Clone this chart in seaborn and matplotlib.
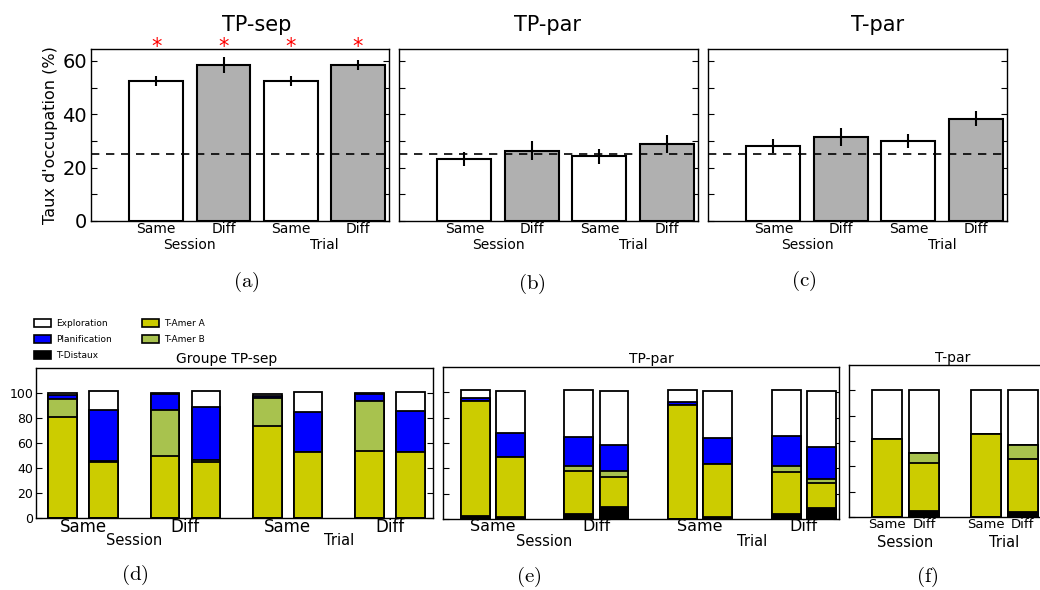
import numpy as np
import pandas as pd
import matplotlib
matplotlib.use("Agg")
import matplotlib.pyplot as plt
import matplotlib.transforms as mtransforms
from matplotlib.patches import Patch
import seaborn as sns

# top row: mean occupation rate (%) with error bars
cats = ["Session Same", "Session Diff", "Trial Same", "Trial Diff"]
tick_names = ["Same", "Diff", "Same", "Diff"]
tp_sep_vals = [52.5, 58.5, 52.5, 58.5]
tp_sep_err = [2.0, 3.0, 2.0, 2.0]
tp_par_vals = [23.2, 26.4, 24.3, 28.9]
tp_par_err = [2.6, 3.5, 2.8, 3.3]
t_par_vals = [28.1, 31.6, 29.9, 38.4]
t_par_err = [2.6, 3.3, 2.6, 2.9]
chance_level = 25

# bottom row: strategy shares (%), two bars per group
segments = ["T-Distaux", "T-Amer A", "T-Amer B", "Planification", "Exploration"]
d_distaux = [0, 0, 0, 0, 0, 0, 0, 0]
d_amer_a = [81.0, 45.1, 49.6, 45.1, 73.3, 53.1, 53.9, 53.1]
d_amer_b = [14.6, 0.3, 37.2, 1.4, 23.1, 0, 39.5, 0]
d_planif = [2.6, 41.4, 12.7, 42.4, 1.3, 32.1, 6.1, 32.6]
d_explo = [1.8, 14.9, 0.8, 12.8, 1.6, 15.7, 0.5, 15.2]

e_distaux = [2.6, 1.8, 3.7, 9.7, 0.3, 1.6, 3.9, 8.7]
e_amer_a = [90.8, 46.9, 33.9, 23.2, 89.4, 41.8, 33.2, 19.5]
e_amer_b = [0, 0, 4.5, 4.7, 0, 0, 4.7, 3.6]
e_planif = [2.4, 18.9, 22.4, 20.8, 2.7, 20.3, 23.5, 25.3]
e_explo = [6.0, 33.7, 37.3, 42.9, 9.4, 37.6, 36.5, 44.2]

f_groups = ["Session", "Trial"]
f_names = ["Same", "Diff"]
f_distaux = [0, 4.5, 0, 4.2]
f_amer_a = [61.8, 38.4, 65.8, 41.3]
f_amer_b = [0, 7.9, 0, 11.1]
f_planif = [0, 0, 0, 0]
f_explo = [38.2, 49.2, 34.2, 43.4]

seg_colors = {"T-Distaux": "#000000", "T-Amer A": "#cccc00", "T-Amer B": "#a8c24e",
              "Planification": "#0000ff", "Exploration": "#ffffff"}

sns.set_style("ticks")
plt.rcParams["font.family"] = ["DejaVu Sans"]
plt.rcParams["mathtext.fontset"] = "cm"
plt.rcParams["axes.linewidth"] = 1.0
for k in ["text.color", "axes.labelcolor", "axes.edgecolor", "xtick.color", "ytick.color"]:
    plt.rcParams[k] = "black"

W, H = 1040, 590
fig = plt.figure(figsize=(10.4, 5.9), dpi=100)


def add_ax(l, r, t, b):
    return fig.add_axes([l / W, 1 - b / H, (r - l) / W, (b - t) / H])


def top_panel(ax, vals, errs, show_y):
    sns.barplot(x=cats, y=vals, hue=cats, order=cats, hue_order=cats,
                palette=["white", "#b0b0b0", "white", "#b0b0b0"], width=0.8,
                saturation=1, edgecolor="black", linewidth=1.5, errorbar=None,
                legend=False, ax=ax)
    ax.errorbar(np.arange(4), vals, yerr=errs, fmt="none", ecolor="black", elinewidth=1.5)
    ax.axhline(chance_level, color="black", ls="--", lw=1.2, dashes=(5, 4))
    ax.set_xlim(-0.97, 3.46)
    ax.set_ylim(0, 64.5)
    ax.set_yticks(range(0, 61, 10))
    if show_y:
        ax.set_yticklabels(["0", "", "20", "", "40", "", "60"])
    else:
        ax.set_yticklabels([])
    ax.tick_params(axis="y", direction="in", left=True, right=True, length=4, labelsize=14, pad=3)
    ax.set_xticks(range(4), tick_names)
    ax.tick_params(axis="x", length=0, labelsize=10, pad=1)
    ax.set_xlabel("")
    ax.set_ylabel("")
    tr = mtransforms.blended_transform_factory(ax.transData, ax.transAxes)
    ax.text(0.5, -0.14, "Session", transform=tr, ha="center", va="center", fontsize=10)
    ax.text(2.5, -0.14, "Trial", transform=tr, ha="center", va="center", fontsize=10)


def stacked_panel(ax, groups, names, seg_vals, width, gap):
    n = len(names)
    df = pd.DataFrame({"group": np.repeat(groups, n), "pos": list(names) * len(groups)})
    cum = np.zeros(len(df))
    for seg, v in zip(segments, seg_vals):
        cum = cum + np.array(v)
        df[seg] = cum
    # draw cumulative totals from the top segment down
    for seg in segments[::-1]:
        c = seg_colors[seg]
        sns.barplot(data=df, x="group", y=seg, hue="pos", order=groups, hue_order=names,
                    palette=[c] * n, dodge=True, width=width, gap=gap, saturation=1,
                    edgecolor="black", linewidth=1.3, errorbar=None, legend=False, ax=ax)
    ax.set_ylim(0, 120)
    ax.set_yticks(range(0, 101, 20))
    ax.tick_params(axis="y", direction="in", left=True, right=True, length=4, labelsize=9, pad=2)
    ax.set_xlabel("")
    ax.set_ylabel("")


# ---- top row
ax_a = add_ax(91, 389, 49, 221)
top_panel(ax_a, tp_sep_vals, tp_sep_err, True)
ax_a.set_ylabel("Taux d'occupation (%)", fontsize=11.5, labelpad=3)
for i in range(4):
    ax_a.text(i, 65.3, "*", color="red", fontsize=15, ha="center", va="center", clip_on=False)

ax_b = add_ax(399, 698, 49, 221)
top_panel(ax_b, tp_par_vals, tp_par_err, False)

ax_c = add_ax(708, 1007, 49, 221)
top_panel(ax_c, t_par_vals, t_par_err, False)

for x, t in [(257, "TP-sep"), (547, "TP-par"), (878, "T-par")]:
    fig.text(x / W, 1 - 25 / H, t, ha="center", va="center", fontsize=15)

# ---- bottom row
ax_d = add_ax(36, 433, 368, 518)
stacked_panel(ax_d, cats, ["a", "b"], [d_distaux, d_amer_a, d_amer_b, d_planif, d_explo], 0.8, 0.3)
ax_d.set_xlim(-0.46, 3.42)
ax_d.set_xticks(range(4), tick_names)
ax_d.tick_params(axis="x", length=0, labelsize=12, pad=0)

ax_e = add_ax(443, 839, 367, 519)
stacked_panel(ax_e, cats, ["a", "b"], [e_distaux, e_amer_a, e_amer_b, e_planif, e_explo], 0.68, 0.18)
ax_e.set_xlim(-0.48, 3.34)
ax_e.set_xticks(range(4), tick_names)
ax_e.set_yticklabels([])
ax_e.tick_params(axis="x", length=0, labelsize=11.5, pad=0)

for ax in (ax_d, ax_e):
    tr = mtransforms.blended_transform_factory(ax.transData, ax.transAxes)
    ax.text(0.5, -0.15, "Session", transform=tr, ha="center", va="center", fontsize=10.5)
    ax.text(2.5, -0.15, "Trial", transform=tr, ha="center", va="center", fontsize=10.5)

ax_f = add_ax(849, 1050, 365, 517)
stacked_panel(ax_f, f_groups, f_names, [f_distaux, f_amer_a, f_amer_b, f_planif, f_explo], 0.75, 0.19)
ax_f.set_xlim(-0.574, 1.465)
ax_f.set_xticks([-0.1875, 0.1875, 0.8125, 1.1875], f_names * 2)
ax_f.set_yticklabels([])
ax_f.tick_params(axis="x", length=0, labelsize=9.5, pad=1)
tr = mtransforms.blended_transform_factory(ax_f.transData, ax_f.transAxes)
ax_f.text(0.0, -0.17, "Session", transform=tr, ha="center", va="center", fontsize=10.5)
ax_f.text(1.0, -0.17, "Trial", transform=tr, ha="center", va="center", fontsize=10.5)

for x, y, t in [(227, 359, "Groupe TP-sep"), (651, 359, "TP-par"), (953, 358, "T-par")]:
    fig.text(x / W, 1 - y / H, t, ha="center", va="center", fontsize=10)

handles = [Patch(facecolor=seg_colors[s], edgecolor="black", linewidth=1.2)
           for s in ["Exploration", "Planification", "T-Distaux", "T-Amer A", "T-Amer B"]]
fig.legend(handles, ["Exploration", "Planification", "T-Distaux", "T-Amer A", "T-Amer B"],
           loc="upper left", bbox_to_anchor=(34 / W, 1 - 319 / H), ncol=2, frameon=False,
           fontsize=6.5, handlelength=1.9, handleheight=1.0, handletextpad=0.55,
           labelspacing=0.75, columnspacing=3.3, borderpad=0, borderaxespad=0)

# sub-figure labels
for x, y, t in [(246, 282, "a"), (532, 284, "b"), (804, 281, "c"),
                (135, 575, "d"), (529, 577, "e"), (927, 577, "f")]:
    fig.text(x / W, 1 - y / H, r"$\mathrm{(" + t + r")}$", ha="center", va="center", fontsize=15)

fig.savefig("out.png", dpi=100)
